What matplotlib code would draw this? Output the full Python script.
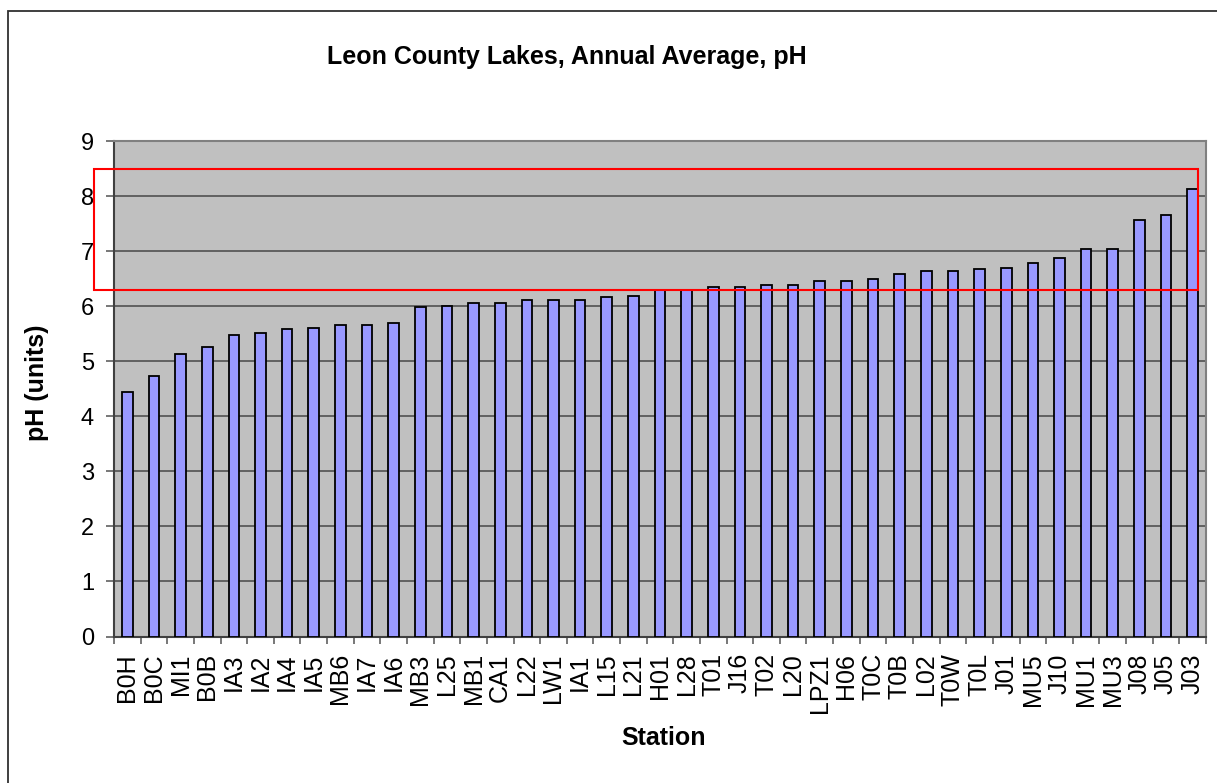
import matplotlib
matplotlib.use("Agg")
import matplotlib.pyplot as plt
from matplotlib.patches import Rectangle
import numpy as np

stations = ["B0H", "B0C", "MI1", "B0B", "IA3", "IA2", "IA4", "IA5", "MB6", "IA7",
            "IA6", "MB3", "L25", "MB1", "CA1", "L22", "LW1", "IA1", "L15", "L21",
            "H01", "L28", "T01", "J16", "T02", "L20", "LPZ1", "H06", "T0C", "T0B",
            "L02", "T0W", "T0L", "J01", "MU5", "J10", "MU1", "MU3", "J08", "J05", "J03"]
ph_values = [4.45, 4.74, 5.14, 5.25, 5.47, 5.51, 5.58, 5.61, 5.65, 5.65,
             5.69, 5.98, 6.01, 6.05, 6.05, 6.12, 6.12, 6.12, 6.16, 6.19,
             6.30, 6.30, 6.34, 6.34, 6.38, 6.38, 6.45, 6.45, 6.49, 6.59,
             6.63, 6.63, 6.67, 6.70, 6.78, 6.88, 7.03, 7.03, 7.57, 7.65, 8.12]
y_ticks = [0, 1, 2, 3, 4, 5, 6, 7, 8, 9]
highlight_low = 6.3
highlight_high = 8.5

plt.rcParams['font.family'] = ['Liberation Sans', 'DejaVu Sans']

W, H = 1217, 783
fig = plt.figure(figsize=(W / 100, H / 100), dpi=100)
ax = fig.add_axes([114/W, 1 - 636.5/H, (1206-114)/W, (636.5-141)/H])

x = np.arange(len(stations))
ax.bar(x, ph_values, width=0.4, color='#9999FF', edgecolor='black', linewidth=1.3, zorder=3)

ax.set_facecolor('#C0C0C0')
ax.set_xlim(-0.5, len(stations) - 0.5)
ax.set_ylim(0, 9)
ax.set_yticks(y_ticks)
ax.yaxis.grid(True, color='#5A5A5A', linewidth=1.3, zorder=1)
ax.set_axisbelow(True)

ax.set_xticks(x)
ax.set_xticklabels(stations, rotation=90, fontsize=18)
ax.set_xticks(np.arange(len(stations) + 1) - 0.5, minor=True)
ax.tick_params(axis='x', which='major', length=0, pad=12)
ax.tick_params(axis='x', which='minor', length=5, width=1.2, color='#606060')
ax.tick_params(axis='y', length=5.8, width=1.2, color='#606060', labelsize=17, pad=8.6)

for s in ['top', 'right']:
    ax.spines[s].set_color('#808080')
    ax.spines[s].set_linewidth(1.5)
for s in ['left', 'bottom']:
    ax.spines[s].set_color('#404040')
    ax.spines[s].set_linewidth(1.5)

ax.set_ylabel('pH (units)', fontsize=18, fontweight='bold', va='center')
ax.yaxis.set_label_coords((37 - 114) / 1092, (636.5 - 383) / 495.5)
ax.set_xlabel('Station', fontsize=18, fontweight='bold', va='center')
ax.xaxis.set_label_coords((664 - 114) / 1092, (636.5 - 738) / 495.5)
fig.text(567 / W, 1 - 57/H, 'Leon County Lakes, Annual Average, pH', fontsize=18,
         fontweight='bold', ha='center', va='center')

# red highlight box spanning the upper range
box_left, box_right = -1.25, len(stations) - 0.8
rect = Rectangle((box_left, highlight_low), box_right - box_left, highlight_high - highlight_low,
                 fill=False, edgecolor='#FF0000', linewidth=1.5, clip_on=False, zorder=5)
ax.add_patch(rect)

# chart frame
frame = Rectangle((8/W, -0.01), 1.02, 1 - 11/H + 0.01, transform=fig.transFigure,
                  fill=False, edgecolor='#303030', linewidth=1.3, clip_on=False)
fig.patches.append(frame)

fig.savefig('out.png', dpi=100)
